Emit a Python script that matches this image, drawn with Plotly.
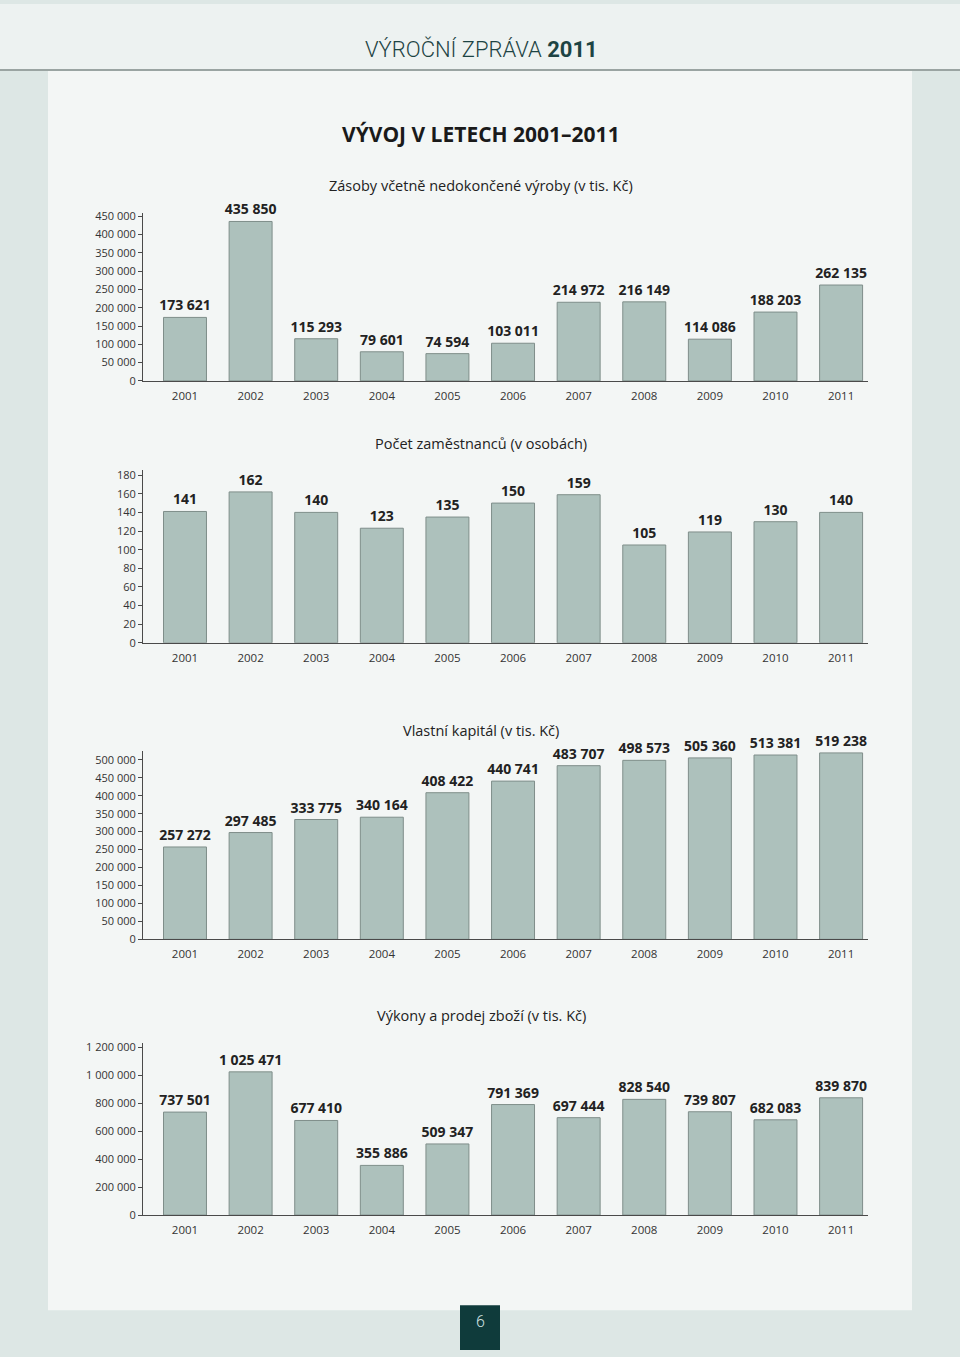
import plotly.graph_objects as go

W, H = 960, 1357

years = ["2001", "2002", "2003", "2004", "2005", "2006", "2007", "2008", "2009", "2010", "2011"]
zasoby = [173621, 435850, 115293, 79601, 74594, 103011, 214972, 216149, 114086, 188203, 262135]
zamestnanci = [141, 162, 140, 123, 135, 150, 159, 105, 119, 130, 140]
kapital = [257272, 297485, 333775, 340164, 408422, 440741, 483707, 498573, 505360, 513381, 519238]
vykony = [737501, 1025471, 677410, 355886, 509347, 791369, 697444, 828540, 739807, 682083, 839870]

titles = [
    "Zásoby včetně nedokončené výroby (v tis. Kč)",
    "Počet zaměstnanců (v osobách)",
    "Vlastní kapitál (v tis. Kč)",
    "Výkony a prodej zboží (v tis. Kč)",
]

BAR = "#adc1bc"
BAR_LINE = "#7f8e8a"
AX = "#4a4a4a"
TXT = "#222222"


def py(p):
    return 1 - p / H


def px(p):
    return p / W


# (series, y range max, tick step, baseline px, top px, title y px)
charts = [
    (zasoby, 460000, 50000, 380, 380 - 460000 * 18.44 / 50000, 183),
    (zamestnanci, 185, 20, 644, 644 - 185 * (644 - 475) / 180, 443),
    (kapital, 525000, 50000, 943, 943 - 525000 * (943 - 762) / 500000, 732),
    (vykony, 1230000, 200000, 1221, 1221 - 1230000 * (1221 - 1052) / 1200000, 1020),
]

fig = go.Figure()
layout = {}
annotations = []

for i, (vals, ymax, step, base, top, ty) in enumerate(charts):
    n = "" if i == 0 else str(i + 1)
    fig.add_trace(go.Bar(
        x=years, y=vals,
        xaxis="x" + n, yaxis="y" + n,
        marker=dict(color=BAR, line=dict(color=BAR_LINE, width=1)),
        width=0.655,
        texttemplate="%{y:,}",
        textposition="outside",
        constraintext="none",
        textfont=dict(family="Open Sans", size=14, color=TXT, weight="bold"),
        cliponaxis=False,
        showlegend=False,
        hoverinfo="skip",
    ))
    layout["xaxis" + n] = dict(
        domain=[px(143), px(868)],
        anchor="y" + n,
        type="category",
        range=[-0.64, 10.41],
        showline=True, linecolor=AX, linewidth=1,
        ticks="", showgrid=False, zeroline=False,
        ticklabelstandoff=4,
        tickfont=dict(family="Open Sans", size=11.5, color="#333333"),
        fixedrange=True,
    )
    layout["yaxis" + n] = dict(
        domain=[py(base), py(top)],
        anchor="x" + n,
        range=[0, ymax],
        tickmode="linear", tick0=0, dtick=step,
        tickformat=",d",
        showline=True, linecolor=AX, linewidth=1,
        ticks="outside", ticklen=4, tickcolor=AX,
        showgrid=False, zeroline=False,
        tickfont=dict(family="Open Sans", size=11, color="#333333"),
        fixedrange=True,
    )
    annotations.append(dict(
        x=px(481), y=py(ty), xref="paper", yref="paper",
        text=titles[i], showarrow=False,
        font=dict(family="Open Sans", size=14.5, color="#222222"),
        xanchor="center", yanchor="middle",
    ))

annotations.append(dict(
    x=px(481), y=py(45), xref="paper", yref="paper",
    text="VÝROČNÍ ZPRÁVA <b>2011</b>", showarrow=False,
    font=dict(family="Roboto", size=22, color="#1d4444", weight=300),
    xanchor="center", yanchor="middle",
))
annotations.append(dict(
    x=px(481), y=py(131), xref="paper", yref="paper",
    text="<b>VÝVOJ V LETECH 2001–2011</b>", showarrow=False,
    font=dict(family="Open Sans", size=21, color="#1a1a1a"),
    xanchor="center", yanchor="middle",
))
annotations.append(dict(
    x=px(480), y=py(1328), xref="paper", yref="paper",
    text="6", showarrow=False,
    font=dict(family="Roboto", size=16, color="#cfe2e2", weight=300),
    xanchor="center", yanchor="middle",
))

shapes = [
    dict(type="rect", xref="paper", yref="paper", x0=0, x1=1, y0=py(66), y1=1,
         fillcolor="#edf2f1", line=dict(width=0), layer="below"),
    dict(type="rect", xref="paper", yref="paper", x0=px(48), x1=px(912), y0=py(1317), y1=py(67),
         fillcolor="#f3f6f5", line=dict(width=0), layer="below"),
    dict(type="line", xref="paper", yref="paper", x0=0, x1=1, y0=py(66.5), y1=py(66.5),
         line=dict(color="#9aa4a2", width=2), layer="below"),
    dict(type="rect", xref="paper", yref="paper", x0=px(460), x1=px(500), y0=0, y1=py(1312),
         fillcolor="#0f3b3b", line=dict(width=0), layer="above"),
]

fig.update_layout(
    width=W, height=H,
    margin=dict(l=0, r=0, t=0, b=0),
    paper_bgcolor="#dde7e5",
    plot_bgcolor="rgba(0,0,0,0)",
    separators=". ",
    bargap=0.3,
    annotations=annotations,
    shapes=shapes,
    font=dict(family="Open Sans"),
    **layout,
)

post = (
    "document.body.style.margin='0';"
    "document.body.style.overflow='hidden';"
    "var d=document.getElementById('{plot_id}');"
    "d.style.position='absolute';d.style.top='0';d.style.left='0';"
)

fig.write_html("out.html", config={"displayModeBar": False}, post_script=post)
